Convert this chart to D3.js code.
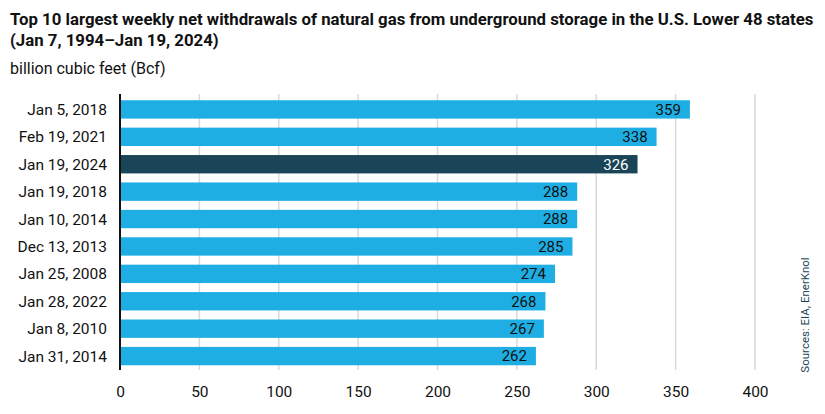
<html>
<head>
<script src="https://d3js.org/d3.v7.min.js"></script>
<style>
  body { margin: 0; background: #fff; }
  text { font-family: "Liberation Sans Narrow", "Roboto", "Noto Sans", sans-serif; }
</style>
</head>
<body>
<svg width=825 height=414></svg>
<script>
var dates = ["Jan 5, 2018", "Feb 19, 2021", "Jan 19, 2024", "Jan 19, 2018", "Jan 10, 2014",
             "Dec 13, 2013", "Jan 25, 2008", "Jan 28, 2022", "Jan 8, 2010", "Jan 31, 2014"];
var withdrawals = [359, 338, 326, 288, 288, 285, 274, 268, 267, 262];
var highlight = "Jan 19, 2024";
var xTicks = [0, 50, 100, 150, 200, 250, 300, 350, 400];

var svg = d3.select("svg");
var plotLeft = 120, plotRight = 755, plotTop = 94, plotBottom = 370;

var x = d3.scaleLinear().domain([0, 400]).range([plotLeft, plotRight]);
var y = d3.scaleBand().domain(dates).range([97.5, 368]).paddingInner(0.33).paddingOuter(0.1);

// titles
svg.append("text").attr("x", 10).attr("y", 25)
  .style("font-size", "16.8px").style("font-weight", "bold").attr("fill", "#111")
  .text("Top 10 largest weekly net withdrawals of natural gas from underground storage in the U.S. Lower 48 states");
svg.append("text").attr("x", 10).attr("y", 46)
  .style("font-size", "16.8px").style("font-weight", "bold").attr("fill", "#111")
  .text("(Jan 7, 1994\u2013Jan 19, 2024)");
svg.append("text").attr("x", 10).attr("y", 74)
  .style("font-size", "16px").attr("fill", "#111")
  .text("billion cubic feet (Bcf)");

// gridlines
svg.append("g").selectAll("line")
  .data(xTicks.slice(1))
  .enter().append("line")
  .attr("x1", function(d) { return x(d); })
  .attr("x2", function(d) { return x(d); })
  .attr("y1", plotTop).attr("y2", plotBottom)
  .attr("stroke", "#d9d9d9").attr("stroke-width", 1.5);

// bars
var bars = svg.append("g").selectAll("g")
  .data(dates)
  .enter().append("g");

bars.append("rect")
  .attr("x", x(0))
  .attr("y", function(d) { return y(d); })
  .attr("width", function(d, i) { return x(withdrawals[i]) - x(0); })
  .attr("height", y.bandwidth())
  .attr("fill", function(d) { return d == highlight ? "#1a4457" : "#1eaee4"; });

bars.append("text")
  .attr("x", function(d, i) { return x(withdrawals[i]) - 9; })
  .attr("y", function(d) { return y(d) + y.bandwidth() / 2; })
  .attr("dy", "0.36em")
  .attr("text-anchor", "end")
  .style("font-size", "15px")
  .attr("fill", function(d) { return d == highlight ? "#fff" : "#111"; })
  .text(function(d, i) { return withdrawals[i]; });

// category labels
svg.append("g").selectAll("text")
  .data(dates)
  .enter().append("text")
  .attr("x", 107)
  .attr("y", function(d) { return y(d) + y.bandwidth() / 2; })
  .attr("dy", "0.36em")
  .attr("text-anchor", "end")
  .style("font-size", "15.5px").attr("fill", "#111")
  .text(function(d) { return d; });

// axis line
svg.append("line")
  .attr("x1", x(0)).attr("x2", x(0))
  .attr("y1", plotTop).attr("y2", plotBottom)
  .attr("stroke", "#111").attr("stroke-width", 2);

// x axis
var xAxis = svg.append("g")
  .attr("transform", "translate(0," + (plotBottom + 16) + ")")
  .call(d3.axisBottom(x).tickValues(xTicks).tickSize(0).tickPadding(0));
xAxis.select(".domain").remove();
xAxis.selectAll("text").style("font-size", "15.5px").attr("fill", "#111")
  .style("font-family", "'Liberation Sans Narrow', Roboto, sans-serif");

// source
svg.append("text")
  .attr("transform", "translate(809,315) rotate(-90)")
  .attr("text-anchor", "middle")
  .style("font-size", "11.5px").attr("fill", "#1a4457")
  .text("Sources: EIA, EnerKnol");
</script>
</body>
</html>
